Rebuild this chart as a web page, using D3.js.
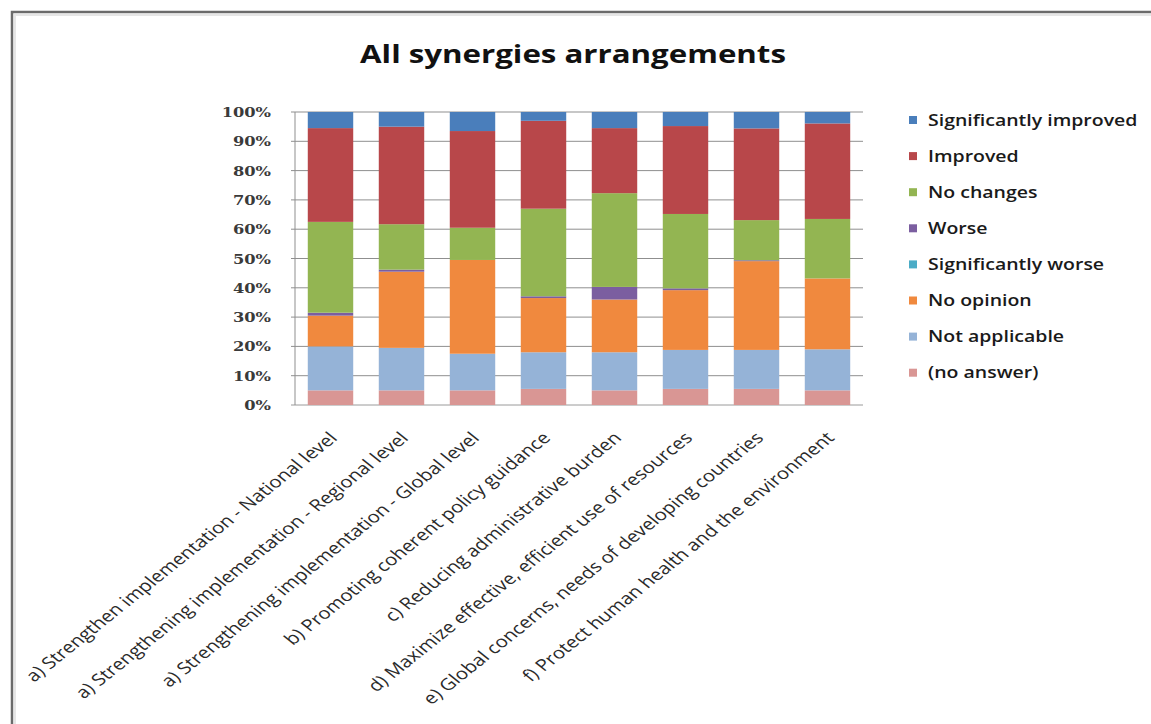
<!DOCTYPE html>
<html>
<head>
<meta charset="utf-8">
<script src="https://cdn.jsdelivr.net/npm/d3@7"></script>
<style>
  body { margin: 0; background: #fff; }
  svg { display: block; }
</style>
</head>
<body>
<div></div>
<script>
var categories = [
  "a) Strengthen implementation - National level",
  "a) Strengthening implementation - Regional level",
  "a) Strengthening implementation - Global level",
  "b) Promoting coherent policy guidance",
  "c) Reducing administrative burden",
  "d) Maximize effective, efficient use of resources",
  "e) Global concerns, needs of developing countries",
  "f) Protect human health and the environment"
]

// percentages per category, one array per answer
var noAnswer      = [5.0, 5.0, 5.0, 5.5, 5.0, 5.5, 5.5, 5.0]
var notApplicable = [15.0, 14.5, 12.5, 12.5, 13.0, 13.3, 13.3, 14.0]
var noOpinion     = [10.5, 26.0, 32.0, 18.5, 18.0, 20.4, 30.3, 24.2]
var sigWorse      = [0, 0, 0, 0, 0, 0, 0, 0]
var worse         = [1.0, 0.7, 0, 0.6, 4.3, 0.6, 0.3, 0]
var noChanges     = [31.0, 15.5, 11.0, 29.9, 32.0, 25.4, 13.7, 20.3]
var improved      = [32.0, 33.3, 33.0, 30.0, 22.2, 30.0, 31.3, 32.6]
var sigImproved   = [5.5, 5.0, 6.5, 3.0, 5.5, 4.8, 5.6, 3.9]

var seriesNames = ["(no answer)", "Not applicable", "No opinion", "Significantly worse",
  "Worse", "No changes", "Improved", "Significantly improved"]
var seriesValues = [noAnswer, notApplicable, noOpinion, sigWorse, worse, noChanges, improved, sigImproved]
var seriesColors = ["#d99694", "#95b3d7", "#f0893e", "#4bacc6", "#7b5ea0", "#93b552", "#b8474a", "#4a7ebb"]
var yTicks = [0, 10, 20, 30, 40, 50, 60, 70, 80, 90, 100]

var W = 1151, H = 724
var stretch = 1.25  // the picture is widened horizontally

var svg = d3.select("div").append("svg")
  .attr("width", W).attr("height", H)

// frame
svg.append("path")
  .attr("d", "M12,724 V12 H1151")
  .attr("fill", "none").attr("stroke", "#6b6b6b").attr("stroke-width", 2.5)
svg.append("path")
  .attr("d", "M15,724 V15 H1151")
  .attr("fill", "none").attr("stroke", "#e6e6e6").attr("stroke-width", 2)

// title
svg.append("text")
  .attr("transform", "translate(573,63) scale(" + stretch + ",1)")
  .attr("text-anchor", "middle")
  .style("font-family", "'Open Sans', sans-serif")
  .style("font-weight", "bold")
  .style("font-size", "25px")
  .attr("fill", "#111")
  .text("All synergies arrangements")

var table = categories.map(function (c, i) {
  var row = { cat: c }
  seriesNames.forEach(function (s, j) { row[s] = seriesValues[j][i] })
  return row
})

var x = d3.scaleBand().domain(categories).range([295, 863]).paddingInner(0.36).paddingOuter(0.18)
var y = d3.scaleLinear().domain([0, 100]).range([405, 112])

// gridlines
svg.append("g").selectAll("line").data(yTicks).enter().append("line")
  .attr("x1", 291).attr("x2", 863)
  .attr("y1", function (d) { return y(d) }).attr("y2", function (d) { return y(d) })
  .attr("stroke", function (d) { return d === 0 ? "#9a9a9a" : "#8f8f8f" })
  .attr("stroke-width", 1)

svg.append("line")
  .attr("x1", 295).attr("x2", 295).attr("y1", y(100)).attr("y2", y(0))
  .attr("stroke", "#8f8f8f")

// y labels
svg.append("g").selectAll("text").data(yTicks).enter().append("text")
  .attr("transform", function (d) { return "translate(271," + (y(d) + 5) + ") scale(" + stretch + ",1)" })
  .attr("text-anchor", "end")
  .style("font-family", "'DejaVu Serif', serif")
  .style("font-size", "13px")
  .style("font-weight", "bold")
  .attr("fill", "#3a3a3a")
  .text(function (d) { return d + "%" })

var stack = d3.stack().keys(seriesNames)
var layers = stack(table)

svg.append("g").selectAll("g").data(layers).enter().append("g")
  .attr("fill", function (d, i) { return seriesColors[i] })
  .selectAll("rect").data(function (d) { return d }).enter().append("rect")
  .attr("x", function (d) { return x(d.data.cat) })
  .attr("width", x.bandwidth())
  .attr("y", function (d) { return y(d[1]) })
  .attr("height", function (d) { return y(d[0]) - y(d[1]) })

// category labels
svg.append("g").selectAll("text").data(categories).enter().append("text")
  .attr("transform", function (d) {
    return "translate(" + (x(d) + x.bandwidth() / 2 + 8) + ",439) scale(" + stretch + ",1) rotate(-45)"
  })
  .attr("text-anchor", "end")
  .style("font-family", "'Open Sans', sans-serif")
  .style("font-size", "16.3px")
  .attr("fill", "#2a2a2a")
  .text(function (d) { return d })

// legend
var legendOrder = seriesNames.slice().reverse()
var legend = svg.append("g").selectAll("g").data(legendOrder).enter().append("g")
  .attr("transform", function (d, i) { return "translate(909," + (120 + i * 36.1) + ")" })
legend.append("rect")
  .attr("x", 0).attr("y", -4).attr("width", 8).attr("height", 8)
  .attr("fill", function (d) { return seriesColors[seriesNames.indexOf(d)] })
legend.append("text")
  .attr("transform", "translate(19,5.5) scale(" + stretch + ",1)")
  .style("font-family", "'Open Sans', sans-serif")
  .style("font-size", "15.6px")
  .style("font-weight", "600")
  .attr("fill", "#1a1a1a")
  .text(function (d) { return d })
</script>
</body>
</html>
